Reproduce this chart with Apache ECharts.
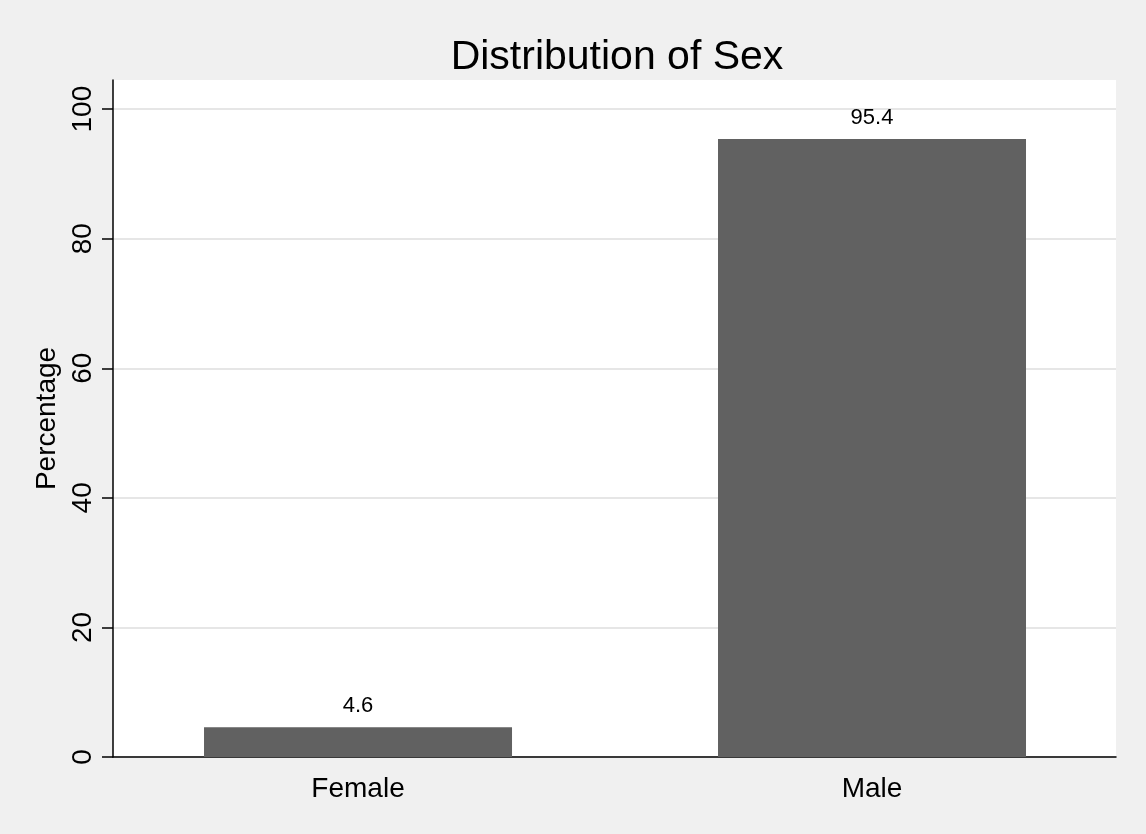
<!DOCTYPE html>
<html>
<head>
<meta charset="utf-8">
<script src="https://cdn.jsdelivr.net/npm/echarts@6/dist/echarts.min.js"></script>
<style>
html,body{margin:0;padding:0;background:#f0f0f0;}
#chart{width:1146px;height:834px;}
</style>
</head>
<body>
<div id="chart"></div>
<script>
const categories = ['Female', 'Male'];
const percentages = [4.6, 95.4];
const yTicks = [0, 20, 40, 60, 80, 100];
const titleText = 'Distribution of Sex';
const yAxisTitle = 'Percentage';

const positions = categories.map((c, i) => i + 1);
const seriesData = percentages.map((v, i) => [positions[i], v]);

const font = 'Liberation Sans, Arial, sans-serif';
const chart = echarts.init(document.getElementById('chart'));
chart.setOption({
  backgroundColor: '#f0f0f0',
  animation: false,
  title: {
    text: titleText,
    left: 612,
    textAlign: 'center',
    top: 32,
    textStyle: { fontFamily: font, fontSize: 41, fontWeight: 'normal', color: '#000' }
  },
  grid: {
    left: 113, right: 30, top: 80, bottom: 77,
    show: true, backgroundColor: '#ffffff', borderWidth: 0
  },
  xAxis: {
    type: 'value',
    min: 0.5233,
    max: 2.4747,
    splitLine: { show: false },
    axisLine: { show: true, onZero: false, lineStyle: { color: '#000', width: 1.5 } },
    axisTick: { show: false },
    axisLabel: {
      customValues: positions,
      formatter: v => categories[Math.round(v) - 1] || '',
      fontFamily: font, fontSize: 28, color: '#000', margin: 18
    }
  },
  yAxis: {
    type: 'value',
    min: 0,
    max: 104.5,
    interval: 20,
    name: yAxisTitle,
    nameLocation: 'middle',
    nameGap: 41,
    nameTextStyle: { fontFamily: font, fontSize: 28, color: '#000' },
    axisLine: { show: true, lineStyle: { color: '#000', width: 1.5 } },
    axisTick: { show: true, length: 11, customValues: yTicks, lineStyle: { color: '#000', width: 1.5 } },
    axisLabel: {
      customValues: yTicks,
      rotate: 90,
      fontFamily: font, fontSize: 28, color: '#000', margin: 16
    },
    splitLine: { show: true, lineStyle: { color: '#e6e6e6', width: 2 } }
  },
  series: [{
    type: 'bar',
    data: seriesData,
    barWidth: 308,
    itemStyle: { color: '#616161' },
    label: {
      show: true, position: 'top', distance: 10,
      formatter: p => p.value[1].toFixed(1),
      fontFamily: font, fontSize: 22, color: '#000'
    }
  }]
});
</script>
</body>
</html>
